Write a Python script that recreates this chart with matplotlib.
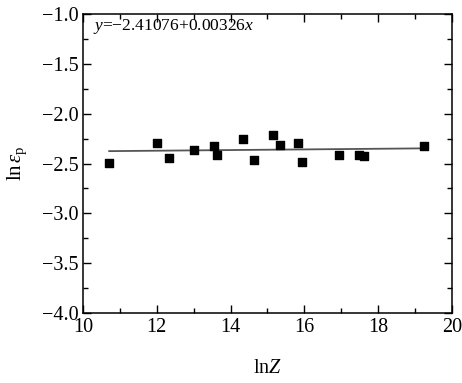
import matplotlib
matplotlib.use('Agg')
import matplotlib.pyplot as plt
import numpy as np

plt.rcParams['font.family'] = ['Liberation Serif', 'DejaVu Serif']
plt.rcParams['mathtext.fontset'] = 'custom'
plt.rcParams['mathtext.rm'] = 'Liberation Serif'
plt.rcParams['mathtext.it'] = 'Liberation Serif:italic'

# Données
lnZ = [10.71, 12.01, 12.32, 13.02, 13.54, 13.63, 14.33, 14.63,
       15.16, 15.34, 15.84, 15.93, 16.93, 17.47, 17.62, 19.25]
ln_eps = [-2.49, -2.29, -2.44, -2.36, -2.32, -2.41, -2.25, -2.46,
          -2.21, -2.31, -2.29, -2.48, -2.41, -2.41, -2.42, -2.32]
a, b = -2.41076, 0.00326

fig = plt.figure(figsize=(4.62, 3.83), dpi=100)
ax = fig.add_axes([0.1797, 0.1828, 0.7983, 0.7806])

ax.scatter(lnZ, ln_eps, marker='s', s=27, color='black', zorder=3)
xf = np.array([min(lnZ), max(lnZ)])
ax.plot(xf, a + b * xf, color='#555555', lw=1.3)

ax.text(10.28, -1.13, r'$y$=−2.41076+0.00326$x$', fontsize=12.5, va='center')

ax.set_xlim(10, 20)
ax.set_ylim(-4.0, -1.0)
ax.set_xticks([10, 12, 14, 16, 18, 20])
ax.set_xticks(np.arange(10, 21, 1), minor=True)
ax.set_yticks(np.arange(-4.0, -0.99, 0.5))
ax.set_yticks(np.arange(-4.0, -0.99, 0.25), minor=True)
ax.set_yticklabels(['−4.0', '−3.5', '−3.0', '−2.5', '−2.0', '−1.5', '−1.0'])

ax.tick_params(which='both', direction='in', top=True, right=True, width=1.0, labelsize=14.5)
ax.tick_params(which='major', length=6)
ax.tick_params(which='minor', length=3.5)
for s in ax.spines.values():
    s.set_linewidth(1.1)

ax.set_xlabel(r'ln$Z$', fontsize=14.5, labelpad=16)
ax.set_ylabel(r'ln$\,\varepsilon_{\rm p}$', fontsize=15, labelpad=9)

fig.savefig('out.png', dpi=100)
